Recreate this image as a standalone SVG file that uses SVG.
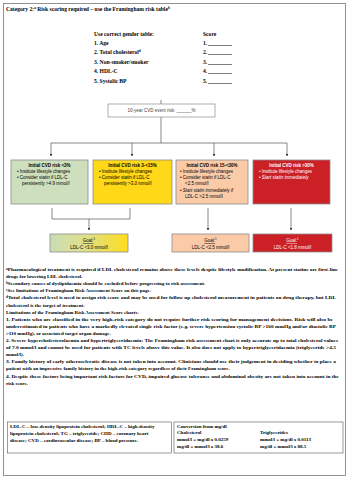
<svg xmlns="http://www.w3.org/2000/svg" width="350" height="480" viewBox="0 0 350 480">
<defs>
<style>
.s{font-family:"Liberation Serif","Times New Roman",serif;fill:#000}
.b{font-weight:bold}
.f{font-size:5px;font-weight:bold}
.h{font-size:5.6px}
.a{font-family:"Liberation Sans",Arial,sans-serif;font-size:4.5px}
.ln{stroke:#555;stroke-width:0.7;fill:none}
.box{stroke:#8c8c8c;stroke-width:0.8}
</style>
<marker id="ar" viewBox="0 0 6 6" refX="5" refY="3" markerWidth="4" markerHeight="4" orient="auto"><path d="M0,0 L6,3 L0,6 z" fill="#333"/></marker>
<linearGradient id="gy" x1="0" y1="0" x2="1" y2="0"><stop offset="0" stop-color="#c9ddb4"/><stop offset="0.45" stop-color="#dfe08a"/><stop offset="1" stop-color="#ffdc1e"/></linearGradient>
</defs>
<rect x="0" y="0" width="350" height="480" fill="#fff"/>
<rect x="3.5" y="3.5" width="342" height="472" fill="none" stroke="#777" stroke-width="0.8"/>

<g id="title"><text class="s b h" x="6" y="11">Category 2:<tspan font-size="3.5" dy="-1.8">a</tspan><tspan dy="1.8"> Risk scoring required – use the Framingham risk table</tspan><tspan font-size="3.5" dy="-1.8">b</tspan></text></g>

<g id="scoring" class="s b h">
<text x="94" y="36">Use correct gender table:</text>
<text x="203" y="36">Score</text>
<text x="94" y="45">1. Age</text>
<text x="94" y="54">2. Total cholesterol<tspan font-size="3.5" dy="-1.8">d</tspan></text>
<text x="94" y="64">3. Non-smoker/smoker</text>
<text x="94" y="73">4. HDL-C</text>
<text x="94" y="83">5. Systolic BP</text>
<text x="203" y="45">1.</text>
<text x="203" y="54">2.</text>
<text x="203" y="64">3.</text>
<text x="203" y="73">4.</text>
<text x="203" y="83">5.</text>
</g>
<g id="blanks" stroke="#000" stroke-width="0.5">
<line x1="208" y1="45.5" x2="232" y2="45.5"/>
<line x1="208" y1="54.5" x2="232" y2="54.5"/>
<line x1="208" y1="64.5" x2="232" y2="64.5"/>
<line x1="208" y1="73.5" x2="232" y2="73.5"/>
<line x1="208" y1="83.5" x2="232" y2="83.5"/>
</g>

<g id="connectors">
<line class="ln" x1="161" y1="100" x2="161" y2="104"/>
<line class="ln" x1="161" y1="117" x2="161" y2="143"/>
<polyline class="ln" points="51,143 287,143"/>
<line class="ln" x1="51" y1="143" x2="51" y2="156" marker-end="url(#ar)"/>
<line class="ln" x1="132" y1="143" x2="132" y2="156" marker-end="url(#ar)"/>
<line class="ln" x1="214" y1="143" x2="214" y2="156" marker-end="url(#ar)"/>
<line class="ln" x1="287" y1="143" x2="287" y2="156" marker-end="url(#ar)"/>
<polyline class="ln" points="52,208 52,219 130,219 130,208"/>
<line class="ln" x1="89" y1="219" x2="89" y2="230" marker-end="url(#ar)"/>
<line class="ln" x1="208" y1="208" x2="208" y2="230" marker-end="url(#ar)"/>
<line class="ln" x1="291" y1="208" x2="291" y2="230" marker-end="url(#ar)"/>
</g>

<g id="risk-box">
<rect x="108" y="104" width="107" height="13" fill="#fff" stroke="#8c8c8c" stroke-width="0.7"/>
<text class="a" x="161.5" y="112.3" text-anchor="middle" fill="#444">10-year CVD event risk: ______%</text>
</g>

<g id="low">
<rect class="box" x="11" y="160" width="77" height="44" fill="#cddfbc"/>
<text class="a b" x="49.5" y="167" text-anchor="middle">Initial CVD risk &lt;3%</text>
<text class="a" x="17" y="173">•  Institute lifestyle changes</text>
<text class="a" x="17" y="179">•  Consider statin if LDL-C</text>
<text class="a" x="22" y="185">persistently &gt;4.9 mmol/l</text>
</g>

<g id="moderate">
<rect class="box" x="93" y="160" width="79" height="44" fill="#ffd817"/>
<text class="a b" x="132.5" y="167" text-anchor="middle">Initial CVD risk 3-&lt;15%</text>
<text class="a" x="99" y="173">•  Institute lifestyle changes</text>
<text class="a" x="99" y="179">•  Consider statin if LDL-C</text>
<text class="a" x="104" y="185">persistently &gt;3.0 mmol/l</text>
</g>

<g id="high">
<rect class="box" x="176" y="160" width="72" height="44" fill="#fbcba8"/>
<text class="a b" x="212" y="167" text-anchor="middle">Initial CVD risk 15-&lt;30%</text>
<text class="a" x="180" y="173">•  Institute lifestyle changes</text>
<text class="a" x="180" y="179">•  Consider statin if LDL-C</text>
<text class="a" x="185" y="185">&lt;2.5 mmol/l</text>
<text class="a" x="180" y="192">•  <tspan font-style="italic">Start statin immediately if</tspan></text>
<text class="a" x="185" y="198">LDL-C &gt;2.5 mmol/l</text>
</g>

<g id="very-high">
<rect class="box" x="253" y="160" width="77" height="44" fill="#cc2027"/>
<text class="a b" x="291.5" y="167" text-anchor="middle" fill="#fff">Initial CVD risk &gt;30%</text>
<text class="a" x="259" y="173" fill="#fff">•  Institute lifestyle changes</text>
<text class="a" x="259" y="179" fill="#fff">•  <tspan font-style="italic">Start statin immediately</tspan></text>
</g>

<g id="goal-1">
<rect class="box" x="50" y="234" width="78" height="18" fill="url(#gy)"/>
<text class="a" x="89" y="242" text-anchor="middle"><tspan text-decoration="underline">Goal:</tspan><tspan font-size="3" dy="-1.8">1</tspan></text>
<text class="a" x="89" y="248.5" text-anchor="middle">LDL-C &lt;3.0 mmol/l</text>
</g>
<g id="goal-2">
<rect class="box" x="172" y="234" width="77" height="18" fill="#fbcba8"/>
<text class="a" x="210.5" y="242" text-anchor="middle"><tspan text-decoration="underline">Goal:</tspan><tspan font-size="3" dy="-1.8">1</tspan></text>
<text class="a" x="210.5" y="248.5" text-anchor="middle">LDL-C &lt;2.5 mmol/l</text>
</g>
<g id="goal-3">
<rect class="box" x="253" y="234" width="79" height="18" fill="#cc2027"/>
<text class="a" x="292.5" y="242" text-anchor="middle" fill="#fff"><tspan text-decoration="underline">Goal:</tspan><tspan font-size="3" dy="-1.8">1</tspan></text>
<text class="a" x="292.5" y="248.5" text-anchor="middle" fill="#fff">LDL-C &lt;1.8 mmol/l</text>
</g>

<g id="footnotes" class="s f">
<text x="6" y="271" textLength="332" lengthAdjust="spacingAndGlyphs"><tspan font-size="3.3" dy="-1.5">a</tspan><tspan dy="1.5">Pharmacological treatment is required if LDL cholesterol remains above these levels despite lifestyle modification. At present statins are first-line</tspan></text>
<text x="6" y="278.1">drugs for lowering LDL cholesterol.</text>
<text x="6" y="285.2"><tspan font-size="3.3" dy="-1.5">b</tspan><tspan dy="1.5">Secondary causes of dyslipidaemia should be excluded before progressing to risk assessment.</tspan></text>
<text x="6" y="292.3"><tspan font-size="3.3" dy="-1.5">c</tspan><tspan dy="1.5">See limitations of Framingham Risk Assessment Score on this page.</tspan></text>
<text x="6" y="299.4" textLength="330" lengthAdjust="spacingAndGlyphs"><tspan font-size="3.3" dy="-1.5">d</tspan><tspan dy="1.5">Total cholesterol level is used to assign risk score and may be used for follow up cholesterol measurement in patients on drug therapy, but LDL</tspan></text>
<text x="6" y="306.5">cholesterol is the target of treatment.</text>
<text x="6" y="313.6">Limitations of the Framingham Risk Assessment Score charts.</text>
<text x="6" y="320.7" textLength="327" lengthAdjust="spacingAndGlyphs">1. Patients who are classified in the very high-risk category do not require further risk scoring for management decisions. Risk will also be</text>
<text x="6" y="327.8" textLength="330" lengthAdjust="spacingAndGlyphs">underestimated in patients who have a markedly elevated single risk factor (e.g. severe hypertension systolic BP &gt;160 mmHg and/or diastolic BP</text>
<text x="6" y="334.9">&gt;110 mmHg), or associated target organ damage.</text>
<text x="6" y="342" textLength="332" lengthAdjust="spacingAndGlyphs">2. Severe hypercholesterolaemia and hypertriglyceridaemia: The Framingham risk assessment chart is only accurate up to total cholesterol values</text>
<text x="6" y="349.1" textLength="330" lengthAdjust="spacingAndGlyphs">of 7.0 mmol/l and cannot be used for patients with TC levels above this value. It also does not apply to hypertriglyceridaemia (triglyceride &gt;4.5</text>
<text x="6" y="356.2">mmol/l).</text>
<text x="6" y="363.3" textLength="330" lengthAdjust="spacingAndGlyphs">3. Family history of early atherosclerotic disease is not taken into account. Clinicians should use their judgement in deciding whether to place a</text>
<text x="6" y="370.4">patient with an impressive family history in the high-risk category regardless of their Framingham score.</text>
<text x="6" y="377.5" textLength="333" lengthAdjust="spacingAndGlyphs">4. Despite these factors being important risk factors for CVD, impaired glucose tolerance and abdominal obesity are not taken into account in the</text>
<text x="6" y="384.6">risk score.</text>
</g>

<g id="abbreviations">
<rect x="7.5" y="422" width="164" height="31" fill="none" stroke="#555" stroke-width="0.6"/>
<text class="s f" x="10" y="427.5">LDL-C – low-density lipoprotein cholesterol; HDL-C – high-density</text>
<text class="s f" x="10" y="434.5">lipoprotein cholesterol; TG – triglyceride; CHD – coronary heart</text>
<text class="s f" x="10" y="441.5">disease; CVD – cardiovascular disease; BP – blood pressure.</text>
</g>
<g id="conversion">
<rect x="174" y="422" width="169" height="31" fill="none" stroke="#555" stroke-width="0.6"/>
<text class="s f b" x="177" y="427.5">Conversion from mg/dl</text>
<text class="s f b" x="177" y="434">Cholesterol</text>
<text class="s f b" x="260" y="434">Triglycerides</text>
<text class="s f" x="177" y="441">mmol/l = mg/dl x 0.0259</text>
<text class="s f" x="177" y="448">mg/dl = mmol/l x 38.6</text>
<text class="s f" x="260" y="441">mmol/l = mg/dl x 0.0113</text>
<text class="s f" x="260" y="448">mg/dl = mmol/l x 88.5</text>
</g>
</svg>
